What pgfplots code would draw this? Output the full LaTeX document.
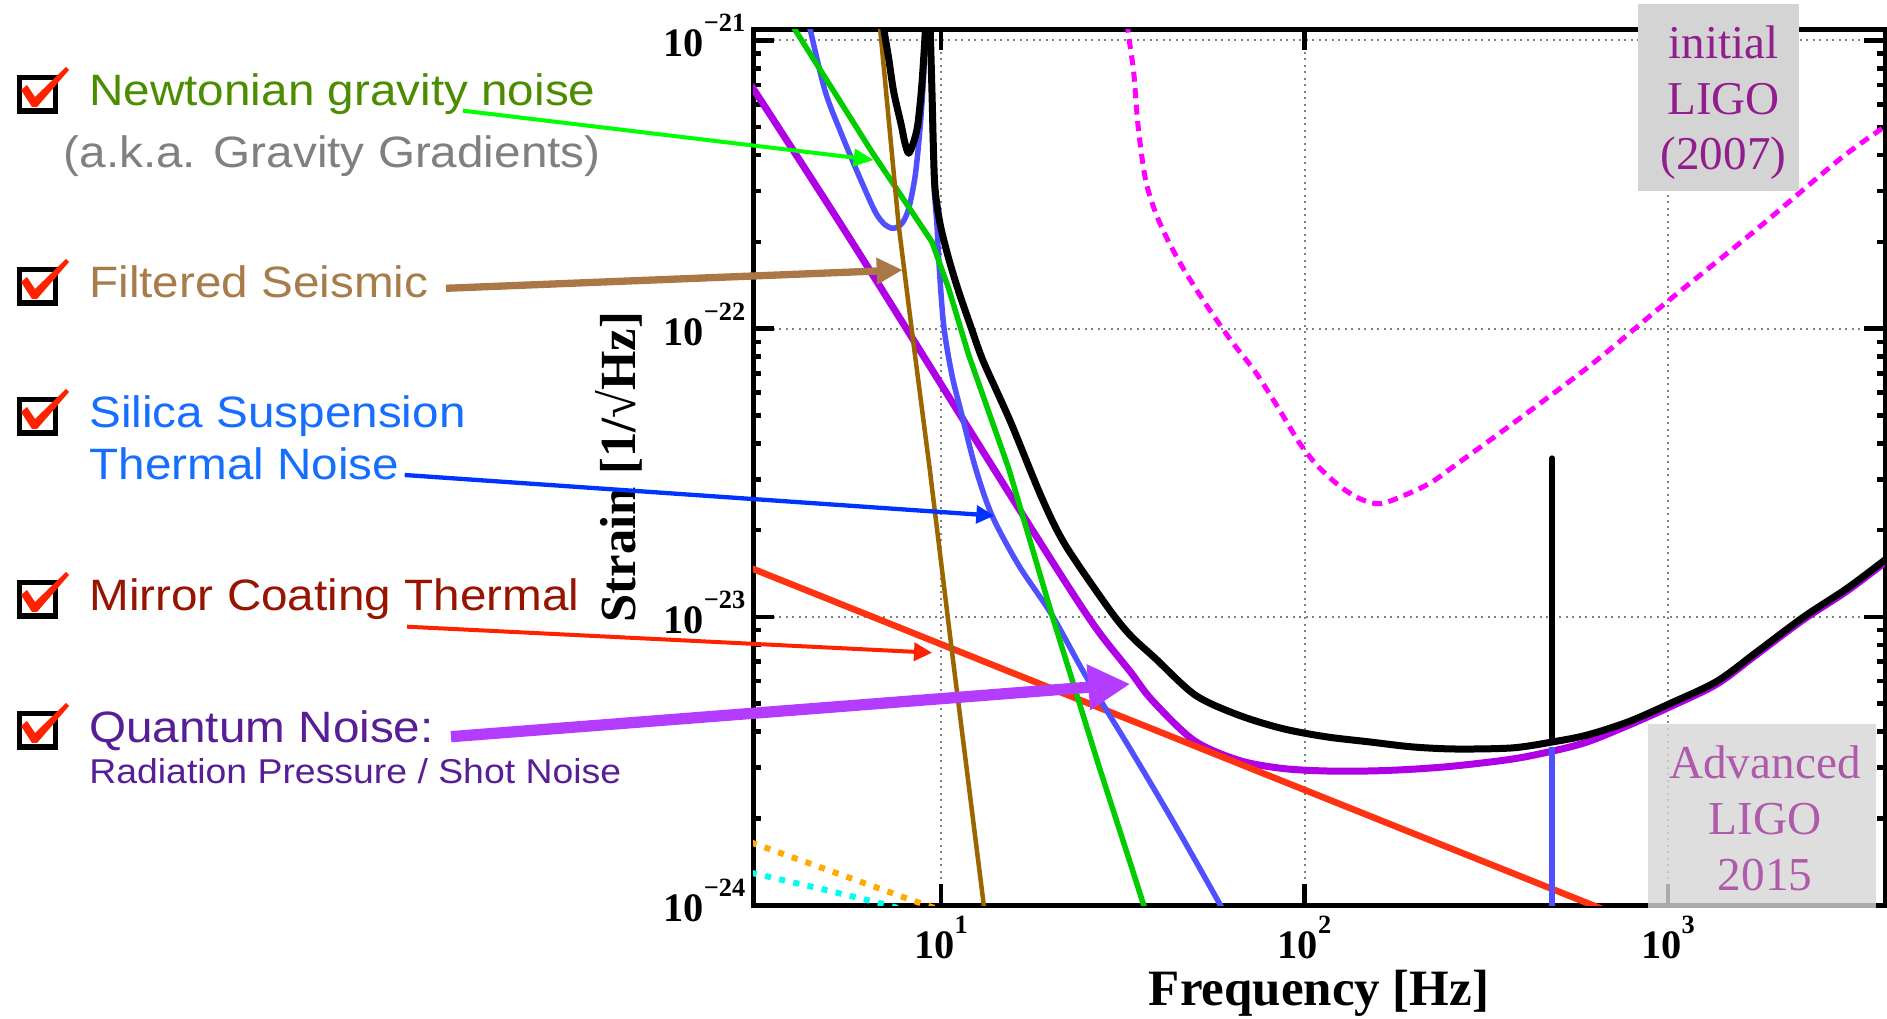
\documentclass[border=0pt]{standalone}
\usepackage{pgfplots}
\pgfplotsset{compat=1.18}
\usepackage{fontspec}
\setmainfont{Liberation Serif}
\newfontfamily\lab[FakeStretch=1.085]{Liberation Sans}
\usetikzlibrary{arrows.meta}
\definecolor{cPurple}{RGB}{175,0,230}
\definecolor{cRed}{RGB}{255,51,17}
\definecolor{cGreen}{RGB}{0,204,0}
\definecolor{cBlue}{RGB}{80,80,255}
\definecolor{cBrown}{RGB}{153,102,0}
\definecolor{cMag}{RGB}{255,0,255}
\definecolor{cOrange}{RGB}{255,170,0}
\definecolor{cCyan}{RGB}{0,255,238}
\definecolor{aGreen}{RGB}{0,255,0}
\definecolor{aBrown}{RGB}{170,120,70}
\definecolor{aBlue}{RGB}{0,51,255}
\definecolor{aRed}{RGB}{255,34,0}
\definecolor{aPurple}{RGB}{180,60,255}
\definecolor{tGreen}{RGB}{76,140,0}
\definecolor{tGray}{RGB}{128,128,128}
\definecolor{tBrown}{RGB}{168,124,74}
\definecolor{tBlue}{RGB}{22,110,255}
\definecolor{tRed}{RGB}{150,20,0}
\definecolor{tPurple}{RGB}{88,30,150}
\definecolor{boxA}{RGB}{212,212,212}
\definecolor{boxB}{RGB}{214,214,214}
\definecolor{ligoA}{RGB}{145,30,140}
\definecolor{ligoB}{RGB}{175,90,170}
\newcommand{\tl}[1]{\fontsize{11.5}{11.5}\selectfont\bfseries 10\raisebox{2.5mm}{\fontsize{7.5}{7.5}\selectfont\bfseries #1}}
\newcommand{\chk}[1]{%
  \draw[line width=0.55mm, black] (19.5,{#1-28.5}) rectangle (55.5,{#1+5});
  \fill[aRed] (21,{#1-16}) -- (27,{#1-21}) -- (35,{#1-9}) -- (66,{#1-39}) -- (69,{#1-36}) -- (37,{#1+1}) -- (32,{#1+1}) -- cycle;
}
\begin{document}
\begin{tikzpicture}
\begin{axis}[
  at={(75.3mm,11.4mm)}, anchor=south west,
  scale only axis, width=113.2mm, height=87.6mm,
  xmode=log, ymode=log,
  xmin=3.04, xmax=3953, ymin=1e-24, ymax=1.095e-21,
  xtick={10,100,1000}, xticklabels={\tl{1},\tl{2},\tl{3}},
  ytick={1e-24,1e-23,1e-22,1e-21}, yticklabels={\tl{−24},\tl{−23},\tl{−22},\tl{−21}},
  minor ytick={2e-24,3e-24,4e-24,5e-24,6e-24,7e-24,8e-24,9e-24,2e-23,3e-23,4e-23,5e-23,6e-23,7e-23,8e-23,9e-23,2e-22,3e-22,4e-22,5e-22,6e-22,7e-22,8e-22,9e-22},
  xminorticks=false,
  grid=major,
  major grid style={draw=gray, line width=0.2mm, dash pattern=on 0.2mm off 0.45mm},
  axis line style={line width=0.5mm},
  tick style={line width=0.45mm, black},
  major tick length=2.1mm, minor tick length=0.85mm,
  tick align=inside,
  xticklabel style={inner sep=0pt, anchor=north, yshift=-1.0mm},
  yticklabel style={inner sep=0pt, anchor=east, xshift=-0.7mm, yshift=0.45mm},
  xlabel={Frequency [Hz]}, ylabel={Strain [1/√Hz]},
  every axis x label/.style={at={(axis description cs:0.5,-0.1148)}, anchor=base, inner sep=0pt, font=\fontsize{14.5}{14.5}\selectfont\bfseries},
  every axis y label/.style={at={(axis description cs:-0.1034,0.5)}, anchor=base, inner sep=0pt, rotate=90, font=\fontsize{14.4}{14.4}\selectfont\bfseries},
  every axis plot/.append style={line join=round},
]
% initial LIGO (magenta dashed)
\addplot[cMag, line width=0.5mm, dash pattern=on 1.0mm off 0.65mm, smooth] coordinates {
(32.2,1.5e-21) (32.69,1.086e-21) (33.89,7.78e-22) (34.83,5.08e-22) (36.48,3.32e-22)
(38.86,2.54e-22) (42.31,2.0e-22) (46.99,1.574e-22) (54.51,1.175e-22) (63.18,9.0e-23)
(73.23,7.08e-23) (84.92,5.28e-23) (96.38,4.05e-23) (108.2,3.36e-23) (124.2,2.86e-23)
(141.0,2.58e-23) (161.6,2.47e-23) (193.5,2.68e-23) (224.3,2.94e-23) (259.9,3.36e-23)
(368.4,4.62e-23) (611.4,7.46e-23) (993.6,1.239e-22) (1721,2.17e-22) (2979,3.89e-22) (4003,5.08e-22)};
% orange dotted
\addplot[cOrange, line width=0.6mm, dash pattern=on 0.6mm off 0.85mm] coordinates {
(3.0,1.65e-24) (8.87,1.01e-24) (9.6,9.77e-25)};
% cyan dotted
\addplot[cCyan, line width=0.6mm, dash pattern=on 0.6mm off 0.85mm] coordinates {
(3.0,1.295e-24) (4.61,1.143e-24) (7.03,1.005e-24) (8.0,9.6e-25)};
% quantum noise (purple)
\addplot[cPurple, line width=0.7mm, smooth] coordinates {
(3.0,7.0e-22) (5.69,2.0e-22) (13.9,3.3e-23) (21.98,1.321e-23) (27.16,8.87e-24)
(33.18,6.45e-24) (38.07,5.14e-24) (49.58,3.73e-24) (65.92,3.18e-24) (86.73,2.98e-24)
(114.1,2.92e-24) (151.7,2.92e-24) (197.6,2.96e-24) (259.9,3.04e-24) (372.3,3.21e-24)
(479.7,3.42e-24) (598.7,3.68e-24) (779.8,4.21e-24) (1014.6,4.88e-24) (1363.9,5.85e-24)
(1757.5,7.42e-24) (2362,9.8e-24) (3108,1.23e-23) (4003,1.565e-23)};
% coating thermal (red)
\addplot[cRed, line width=0.65mm] coordinates {
(3.0,1.477e-23) (100,2.51e-24) (700,9.4e-25)};
% suspension thermal (blue)
\addplot[cBlue, line width=0.55mm, smooth] coordinates {
(4.18,1.37e-21) (4.370,1.086e-21) (4.806,6.64e-22) (5.341,4.69e-22) (5.937,3.41e-22)
(6.597,2.54e-22) (7.028,2.29e-22) (7.411,2.23e-22) (7.812,2.32e-22) (8.149,2.61e-22)
(8.497,3.41e-22) (8.772,5.08e-22) (8.961,7.58e-22) (9.054,1.086e-21) (9.10,1.6e-21)};
\addplot[cBlue, line width=0.55mm, smooth] coordinates {
(9.30,1.6e-21) (9.345,1.086e-21) (9.548,3.41e-22) (9.75,2.29e-22) (9.855,1.75e-22)
(10.17,1.028e-22) (10.72,6.90e-23) (11.42,5.01e-23) (12.43,3.3e-23) (13.81,2.25e-23)
(16.36,1.51e-23) (20.20,1.014e-23) (24.95,6.28e-24) (33.53,3.40e-24) (44.12,1.89e-24)
(58.67,1.0e-24) (61.0,9.0e-25)};
\addplot[cBlue, line width=0.55mm] coordinates {(479.7,8e-25) (479.7,3.54e-24)};
% Newtonian (green)
\addplot[cGreen, line width=0.55mm] coordinates {
(3.80,1.19e-21) (3.974,1.086e-21) (6.459,4.10e-22) (9.445,2.0e-22) (10.50,1.377e-22)
(11.92,8.09e-23) (15.36,3.27e-23) (20.20,1.014e-23) (27.16,3.05e-24) (33.53,1.34e-24)
(36.11,1.0e-24) (38.0,8.2e-25)};
% seismic (brown)
\addplot[cBrown, line width=0.45mm] coordinates {
(6.57,1.58e-21) (6.808,1.086e-21) (7.647,2.29e-22) (8.322,9.75e-23) (9.30,3.3e-23)
(10.72,7.57e-24) (11.92,2.61e-24) (13.11,1.0e-24) (13.3,8.5e-25)};
% total (black)
\addplot[black, line width=0.7mm, smooth] coordinates {
(6.70,1.5e-21) (6.957,1.10e-21) (7.180,8.67e-22) (7.411,6.64e-22) (7.778,5.08e-22)
(7.946,4.45e-22) (8.149,4.06e-22) (8.412,4.45e-22) (8.628,5.08e-22) (8.826,6.64e-22)
(8.961,8.67e-22) (9.054,1.10e-21) (9.10,1.6e-21)};
\addplot[black, line width=0.7mm, smooth] coordinates {
(9.30,1.5e-21) (9.345,1.086e-21) (9.445,6.64e-22) (9.548,3.90e-22) (9.645,2.99e-22) (9.956,2.29e-22)
(10.50,1.75e-22) (11.19,1.343e-22) (12.04,1.028e-22) (12.97,7.89e-23) (14.26,6.04e-23)
(15.68,4.62e-23) (18.96,2.58e-23) (21.98,1.775e-23) (28.93,1.069e-23) (33.18,8.63e-24)
(38.86,7.18e-24) (50.08,5.35e-24) (65.92,4.56e-24) (86.73,4.10e-24) (114.1,3.84e-24)
(151.7,3.68e-24) (197.6,3.54e-24) (259.9,3.48e-24) (372.3,3.51e-24) (479.7,3.68e-24)
(598.7,3.89e-24) (779.8,4.33e-24) (1014.6,5.01e-24)
(1363.9,5.98e-24) (1757.5,7.57e-24) (2362,1.0e-23) (3108,1.256e-23) (4003,1.596e-23)};
\addplot[black, line width=0.6mm, line cap=round] coordinates {(479.7,3.68e-24) (479.7,3.55e-23)};
\end{axis}
\begin{scope}[x=0.1mm, y=-0.1mm, yshift=101.9mm]
  % initial LIGO box
  \fill[boxA] (1638,4) rectangle (1799,191);
  \node[anchor=base, inner sep=0pt, text=ligoA, font=\fontsize{13.4}{13.4}\selectfont] at (1723.5,58.3) {initial};
  \node[anchor=base, inner sep=0pt, text=ligoA, font=\fontsize{13.4}{13.4}\selectfont] at (1723.5,114.3) {LIGO};
  \node[anchor=base, inner sep=0pt, text=ligoA, font=\fontsize{13.4}{13.4}\selectfont] at (1723.5,170) {(2007)};
  % Advanced LIGO box
  \fill[boxB, opacity=0.8] (1648,724.3) rectangle (1876,908.3);
  \node[anchor=base, inner sep=0pt, text=ligoB, font=\fontsize{13.45}{13.45}\selectfont] at (1765,778.3) {Advanced};
  \node[anchor=base, inner sep=0pt, text=ligoB, font=\fontsize{13.45}{13.45}\selectfont] at (1765,834) {LIGO};
  \node[anchor=base, inner sep=0pt, text=ligoB, font=\fontsize{13.45}{13.45}\selectfont] at (1765,890) {2015};
  % left labels
  \node[anchor=base west, inner sep=0pt, text=tGreen, font=\lab\fontsize{12.5}{12.5}\selectfont] at (88.7,106) {Newtonian gravity noise};
  \node[anchor=base west, inner sep=0pt, text=tGray, font=\lab\fontsize{12.5}{12.5}\selectfont] at (63,168) {(a.k.a. Gravity Gradients)};
  \node[anchor=base west, inner sep=0pt, text=tBrown, font=\lab\fontsize{12.5}{12.5}\selectfont] at (88.7,298) {Filtered Seismic};
  \node[anchor=base west, inner sep=0pt, text=tBlue, font=\lab\fontsize{12.5}{12.5}\selectfont] at (88.7,428) {Silica Suspension};
  \node[anchor=base west, inner sep=0pt, text=tBlue, font=\lab\fontsize{12.5}{12.5}\selectfont] at (88.7,480) {Thermal Noise};
  \node[anchor=base west, inner sep=0pt, text=tRed, font=\lab\fontsize{12.5}{12.5}\selectfont] at (88.7,611) {Mirror Coating Thermal};
  \node[anchor=base west, inner sep=0pt, text=tPurple, font=\lab\fontsize{12.5}{12.5}\selectfont] at (88.7,742) {Quantum Noise:};
  \node[anchor=base west, inner sep=0pt, text=tPurple, font=\lab\fontsize{9.8}{9.8}\selectfont] at (88.7,783) {Radiation Pressure / Shot Noise};
  % check boxes
  \chk{106}
  \chk{298}
  \chk{428}
  \chk{611}
  \chk{742}
  % arrows
  \draw[aGreen, line width=0.4mm, -{Triangle[length=2mm,width=1.7mm]}] (463,110.7) -- (873.7,160);
  \draw[aBrown, line width=0.73mm, -{Triangle[length=2.6mm,width=2.5mm]}] (446,288.3) -- (902.7,270);
  \draw[aBlue, line width=0.43mm, -{Triangle[length=1.8mm,width=1.75mm]}] (404.7,475) -- (994.3,515.7);
  \draw[aRed, line width=0.4mm, -{Triangle[length=1.8mm,width=1.8mm]}] (407,626.7) -- (932,652.7);
  \draw[aPurple, line width=1.13mm, -{Triangle[length=4.2mm,width=4.3mm]}] (451,736.7) -- (1130.3,684);
\end{scope}
\pgfresetboundingbox
\useasboundingbox (0,0) rectangle (188.7mm,101.9mm);
\end{tikzpicture}
\end{document}
